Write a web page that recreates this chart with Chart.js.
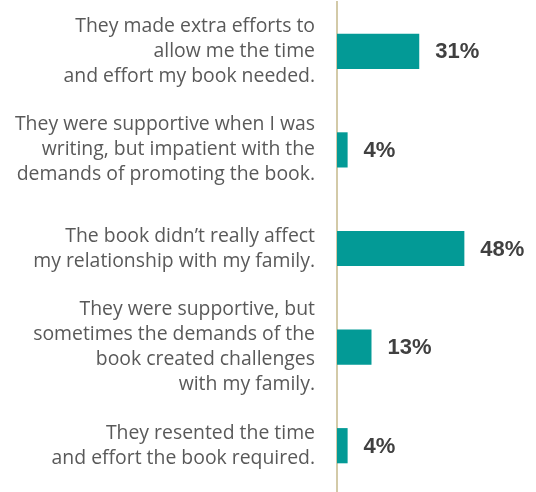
<!DOCTYPE html>
<html>
<head>
<meta charset="utf-8">
<script src="https://cdn.jsdelivr.net/npm/chart.js@4/dist/chart.umd.min.js"></script>
<style>
  html, body { margin: 0; padding: 0; background: #ffffff; overflow: hidden; }
  #wrap { width: 536px; height: 495px; position: relative; }
</style>
</head>
<body>
<div id="wrap"><canvas id="chart"></canvas></div>
<script>
// categories (multi-line labels, as in the source)
const categories = [
  ['They made extra efforts to', 'allow me the time', 'and effort my book needed.'],
  ['They were supportive when I was', 'writing, but impatient with the', 'demands of promoting the book.'],
  ['The book didn\u2019t really affect', 'my relationship with my family.'],
  ['They were supportive, but', 'sometimes the demands of the', 'book created challenges', 'with my family.'],
  ['They resented the time', 'and effort the book required.'],
];
const shares = [31, 4, 48, 13, 4];

const TEAL = '#039a96';
const AXIS_TAN = '#d3caa8';
const LABEL_GRAY = '#595959';
const VALUE_GRAY = '#404040';
const FONT = '"Open Sans", "DejaVu Sans", sans-serif';
const VALUE_FONT = '"Liberation Sans", Arial, sans-serif';

// draws the "31%" style labels just past the bar ends
const valueLabels = {
  id: 'valueLabels',
  afterDatasetsDraw(chart) {
    const ctx = chart.ctx;
    const meta = chart.getDatasetMeta(0);
    ctx.save();
    ctx.font = 'bold 22px ' + VALUE_FONT;
    ctx.fillStyle = VALUE_GRAY;
    ctx.textAlign = 'left';
    ctx.textBaseline = 'middle';
    meta.data.forEach((bar, i) => {
      ctx.fillText(shares[i] + '%', bar.x + 16, bar.y + 1);
    });
    ctx.restore();
  }
};

new Chart(document.getElementById('chart'), {
  type: 'bar',
  data: {
    labels: categories,
    datasets: [{
      data: shares,
      backgroundColor: TEAL,
      borderWidth: 0,
      barPercentage: 0.7,
      categoryPercentage: 0.51,
    }],
  },
  options: {
    indexAxis: 'y',
    responsive: true,
    maintainAspectRatio: false,
    animation: false,
    layout: { padding: { top: 2, bottom: 0, left: 0, right: 0 } },
    plugins: {
      legend: { display: false },
      tooltip: { enabled: false },
    },
    scales: {
      x: {
        min: 0,
        max: 75,
        display: false,
      },
      y: {
        afterFit: s => {
          s.width = 337;
          s.paddingTop = 0;
          s.paddingBottom = 0;
        },
        grid: { display: false, drawTicks: false },
        border: { display: true, color: AXIS_TAN, width: 2 },
        ticks: {
          autoSkip: false,
          padding: 22,
          color: LABEL_GRAY,
          font: { family: FONT, size: 19.4, lineHeight: 1.29 },
        },
      },
    },
  },
  plugins: [valueLabels],
});
</script>
</body>
</html>
